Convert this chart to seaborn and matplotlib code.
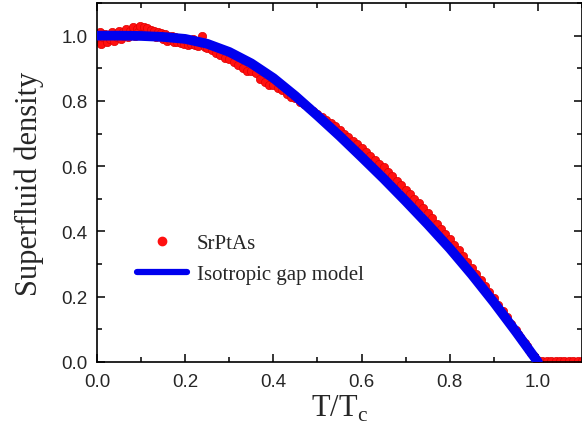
import matplotlib
matplotlib.use("Agg")
import matplotlib.pyplot as plt
from matplotlib.lines import Line2D
from matplotlib.ticker import MultipleLocator, FormatStrFormatter
import pandas as pd
import seaborn as sns

# measured superfluid density (red points)
low_t = [0.002, 0.006, 0.010, 0.014, 0.018, 0.022, 0.026, 0.030, 0.034, 0.038,
         0.042, 0.046, 0.050, 0.054, 0.058, 0.062, 0.066, 0.070, 0.074, 0.078,
         0.082, 0.086, 0.090, 0.094, 0.098, 0.102, 0.106, 0.110, 0.114, 0.118,
         0.122, 0.126, 0.130, 0.134, 0.138, 0.142, 0.146, 0.150, 0.154, 0.158,
         0.162, 0.166, 0.170, 0.174, 0.178, 0.182, 0.186, 0.190, 0.194, 0.198,
         0.202, 0.206, 0.210, 0.214, 0.218, 0.222, 0.226, 0.230, 0.234, 0.238,
         0.242, 0.246]
low_rho = [0.985, 1.010, 0.975, 0.995, 1.005, 0.980, 1.000, 0.990, 1.010, 0.985,
           1.005, 0.995, 1.015, 0.990, 1.010, 1.000, 1.020, 0.995, 1.015, 1.005,
           1.025, 1.000, 1.020, 1.010, 1.030, 1.005, 1.025, 1.010, 1.022, 1.000,
           1.018, 1.005, 1.015, 0.995, 1.010, 0.998, 1.008, 0.990, 1.005, 0.985,
           1.000, 0.988, 0.998, 0.982, 0.995, 0.980, 0.992, 0.978, 0.990, 0.975,
           0.988, 0.972, 0.985, 0.975, 0.990, 0.970, 0.983, 0.968, 0.980, 1.000,
           0.972, 0.965]
high_t = [0.25, 0.26, 0.27, 0.28, 0.29, 0.30, 0.31, 0.32, 0.33, 0.34,
          0.35, 0.36, 0.37, 0.38, 0.39, 0.40, 0.41, 0.42, 0.43, 0.44,
          0.45, 0.46, 0.47, 0.48, 0.49, 0.50, 0.51, 0.52, 0.53, 0.54,
          0.55, 0.56, 0.57, 0.58, 0.59, 0.60, 0.61, 0.62, 0.63, 0.64,
          0.65, 0.66, 0.67, 0.68, 0.69, 0.70, 0.71, 0.72, 0.73, 0.74,
          0.75, 0.76, 0.77, 0.78, 0.79, 0.80, 0.81, 0.82, 0.83, 0.84,
          0.85, 0.86, 0.87, 0.88, 0.89, 0.90, 0.91, 0.92, 0.93, 0.94,
          0.95, 0.955, 0.96, 0.965, 0.97, 0.975, 0.98, 0.985, 0.99, 0.995,
          1.00, 1.01, 1.02, 1.03, 1.04, 1.05, 1.06, 1.07, 1.08, 1.09, 1.10]
high_rho = [0.962, 0.955, 0.948, 0.940, 0.932, 0.928, 0.920, 0.911, 0.902, 0.892,
            0.893, 0.885, 0.868, 0.858, 0.848, 0.850, 0.840, 0.832, 0.822, 0.812,
            0.810, 0.798, 0.790, 0.778, 0.768, 0.760, 0.752, 0.742, 0.732, 0.722,
            0.712, 0.700, 0.690, 0.678, 0.668, 0.655, 0.643, 0.632, 0.620, 0.608,
            0.596, 0.583, 0.570, 0.556, 0.542, 0.528, 0.514, 0.500, 0.486, 0.471,
            0.456, 0.440, 0.424, 0.408, 0.392, 0.376, 0.359, 0.342, 0.324, 0.306,
            0.288, 0.270, 0.252, 0.233, 0.214, 0.195, 0.176, 0.156, 0.137, 0.117,
            0.097, 0.087, 0.077, 0.067, 0.058, 0.048, 0.038, 0.028, 0.018, 0.009,
            0.003, 0.004, 0.003, 0.004, 0.003, 0.004, 0.003, 0.004, 0.003, 0.004, 0.003]

# isotropic gap model (blue line)
model_t = [0.00, 0.05, 0.10, 0.15, 0.20, 0.25, 0.30, 0.35, 0.40, 0.45,
           0.50, 0.55, 0.60, 0.65, 0.70, 0.75, 0.80, 0.85, 0.90, 0.95, 1.00]
model_rho = [1.000, 1.000, 0.999, 0.996, 0.990, 0.975, 0.950, 0.915, 0.870, 0.815,
             0.755, 0.693, 0.628, 0.562, 0.493, 0.422, 0.348, 0.268, 0.183, 0.093, 0.000]

data = pd.DataFrame({"t": low_t + high_t, "rho": low_rho + high_rho})
model = pd.DataFrame({"t": model_t, "rho": model_rho})

sns.set_style("ticks")
plt.rcParams["font.family"] = ["Liberation Sans", "DejaVu Sans"]
plt.rcParams["mathtext.fontset"] = "custom"
plt.rcParams["mathtext.rm"] = "Liberation Serif"

fig = plt.figure(figsize=(5.82, 4.31), dpi=100)
ax = fig.add_axes([97 / 582, 1 - 363 / 431, 485 / 582, 359 / 431])

sns.scatterplot(data=data, x="t", y="rho", ax=ax, color="#ff1010",
                edgecolor="#e00000", linewidth=0.5, s=36, zorder=2, legend=False)
sns.lineplot(data=model, x="t", y="rho", ax=ax, color="#0000ee",
             linewidth=7, zorder=3, legend=False)

ax.set_xlim(0, 1.1)
ax.set_ylim(0, 1.1)
ax.xaxis.set_major_locator(MultipleLocator(0.2))
ax.xaxis.set_minor_locator(MultipleLocator(0.1))
ax.yaxis.set_major_locator(MultipleLocator(0.2))
ax.yaxis.set_minor_locator(MultipleLocator(0.1))
ax.xaxis.set_major_formatter(FormatStrFormatter("%.1f"))
ax.yaxis.set_major_formatter(FormatStrFormatter("%.1f"))
ax.tick_params(which="both", direction="in", top=True, right=True,
               width=1.1, color="black", labelsize=13.5)
ax.tick_params(axis="x", pad=8)
ax.tick_params(axis="y", pad=7)
ax.tick_params(which="major", length=6)
ax.tick_params(which="minor", length=3.5)
for sp in ax.spines.values():
    sp.set_linewidth(1.2)
    sp.set_color("black")

serif = ["Liberation Serif", "DejaVu Serif"]
ax.set_xlabel(r"T/T$_\mathregular{c}$", fontsize=22, family=serif, labelpad=2)
ax.set_ylabel("Superfluid density", fontsize=22, family=serif, labelpad=12)

handles = [Line2D([], [], marker="o", linestyle="none", color="#ff1010",
                  markersize=6),
           Line2D([], [], color="#0000ee", linewidth=4.5, solid_capstyle="round")]
ax.legend(handles, ["SrPtAs", "Isotropic gap model"], loc="upper left",
          bbox_to_anchor=(0.043, 0.41), frameon=False, handlelength=2.4,
          prop={"family": serif, "size": 15}, handletextpad=0.5, labelspacing=0.55)

fig.savefig("out.png", dpi=100)
